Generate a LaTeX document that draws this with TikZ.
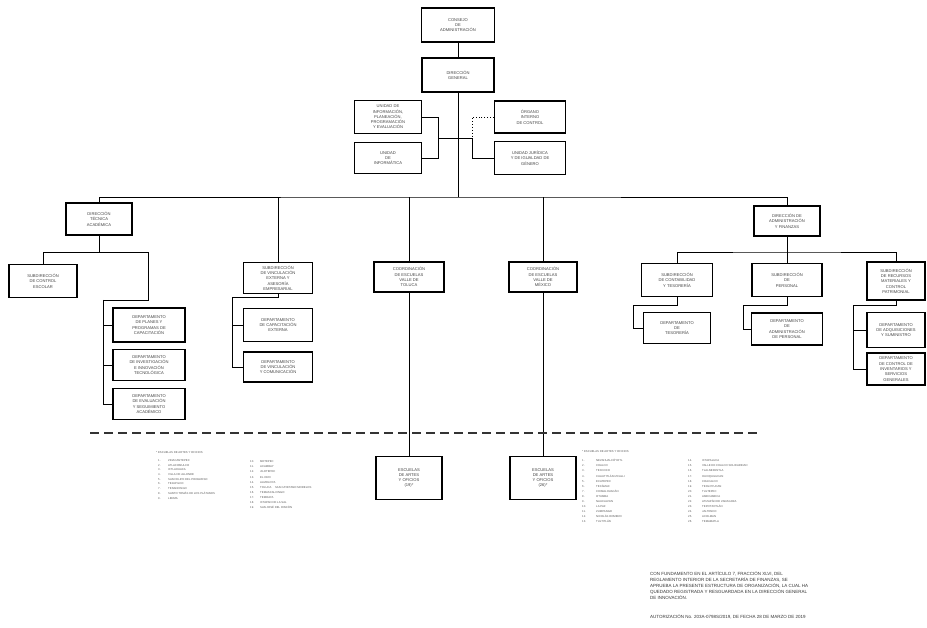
\documentclass[tikz,border=0pt]{standalone}
\usepackage{fontspec}
\setmainfont{Liberation Sans}
\usetikzlibrary{positioning}

\newcommand\boxfont{\fontsize{4.1}{5.3}\selectfont}
\newcommand\listfont{\fontsize{2.8}{4.7}\selectfont}
\newcommand\listfontb{\fontsize{2.8}{5.1}\selectfont}
\newcommand\notefont{\fontsize{4.5}{6}\selectfont}

\tikzset{
  unit/.style={draw, line width=1.2pt, align=center, font=\boxfont, inner sep=1pt, text=black!75},
  link/.style={line width=0.9pt},
  lst/.style={align=left, inner sep=0pt, anchor=north west, text=black!65},
}

\begin{document}
\begin{tikzpicture}[x=1pt,y=-1pt]
\useasboundingbox (0,0) rectangle (927,628);

% top of the structure
\node[unit, minimum width=73pt, minimum height=34pt] (cons) at (458,25) {CONSEJO\\DE\\ADMINISTRACIÓN};
\node[unit, minimum width=72pt, minimum height=34pt] (dg) at (458,75) {DIRECCIÓN\\GENERAL};
\node[unit, minimum width=67pt, minimum height=33pt] (uippe) at (388,117) {UNIDAD DE\\INFORMACIÓN,\\PLANEACIÓN,\\PROGRAMACIÓN\\Y EVALUACIÓN};
\node[unit, minimum width=67pt, minimum height=31pt] (uinf) at (388,158) {UNIDAD\\DE\\INFORMÁTICA};
\node[unit, minimum width=71pt, minimum height=32pt] (oic) at (530,117) {ÓRGANO\\INTERNO\\DE CONTROL};
\node[unit, minimum width=71pt, minimum height=33pt] (ujig) at (530,158) {UNIDAD JURÍDICA\\Y DE IGUALDAD DE\\GÉNERO};

% direccion tecnica academica
\node[unit, minimum width=66pt, minimum height=32pt] (dta) at (99,219) {DIRECCIÓN\\TÉCNICA\\ACADÉMICA};
\node[unit, minimum width=68pt, minimum height=33pt] (sce) at (43,281) {SUBDIRECCIÓN\\DE CONTROL\\ESCOLAR};
\node[unit, minimum width=72pt, minimum height=34pt] (dpp) at (149,325) {DEPARTAMENTO\\DE PLANES Y\\PROGRAMAS DE\\CAPACITACIÓN};
\node[unit, minimum width=72pt, minimum height=31pt] (dii) at (149,365) {DEPARTAMENTO\\DE INVESTIGACIÓN\\E INNOVACIÓN\\TECNOLÓGICA};
\node[unit, minimum width=72pt, minimum height=31pt] (des) at (149,404) {DEPARTAMENTO\\DE EVALUACIÓN\\Y SEGUIMIENTO\\ACADÉMICO};

% vinculacion
\node[unit, minimum width=69pt, minimum height=31pt] (svae) at (278,278) {SUBDIRECCIÓN\\DE VINCULACIÓN\\EXTERNA Y\\ASESORÍA\\EMPRESARIAL};
\node[unit, minimum width=69pt, minimum height=33pt] (dce) at (278,325) {DEPARTAMENTO\\DE CAPACITACIÓN\\EXTERNA};
\node[unit, minimum width=69pt, minimum height=30pt] (dvc) at (278,367) {DEPARTAMENTO\\DE VINCULACIÓN\\Y COMUNICACIÓN};

% coordinaciones y escuelas
\node[unit, minimum width=70pt, minimum height=30pt] (cevt) at (409,277) {COORDINACIÓN\\DE ESCUELAS\\VALLE DE\\TOLUCA};
\node[unit, minimum width=68pt, minimum height=30pt] (cevm) at (543,277) {COORDINACIÓN\\DE ESCUELAS\\VALLE DE\\MÉXICO};
\node[unit, minimum width=66pt, minimum height=43pt] (eaot) at (409,478) {ESCUELAS\\DE ARTES\\Y OFICIOS\\(19)*};
\node[unit, minimum width=66pt, minimum height=43pt] (eaom) at (543,478) {ESCUELAS\\DE ARTES\\Y OFICIOS\\(26)*};

% administracion y finanzas
\node[unit, minimum width=66pt, minimum height=30pt] (daf) at (787,221) {DIRECCIÓN DE\\ADMINISTRACIÓN\\Y FINANZAS};
\node[unit, minimum width=71pt, minimum height=33pt] (sct) at (677,280) {SUBDIRECCIÓN\\DE CONTABILIDAD\\Y TESORERÍA};
\node[unit, minimum width=70pt, minimum height=33pt] (sp) at (787,280) {SUBDIRECCIÓN\\DE\\PERSONAL};
\node[unit, minimum width=58pt, minimum height=38pt] (srm) at (896,281) {SUBDIRECCIÓN\\DE RECURSOS\\MATERIALES Y\\CONTROL\\PATRIMONIAL};
\node[unit, minimum width=67pt, minimum height=31pt] (dt) at (677,328) {DEPARTAMENTO\\DE\\TESORERÍA};
\node[unit, minimum width=71pt, minimum height=32pt] (dap) at (787,329) {DEPARTAMENTO\\DE\\ADMINISTRACIÓN\\DE PERSONAL};
\node[unit, minimum width=58pt, minimum height=35pt] (das) at (896,330) {DEPARTAMENTO\\DE ADQUISICIONES\\Y SUMINISTRO};
\node[unit, minimum width=58pt, minimum height=32pt] (dcisg) at (896,369) {DEPARTAMENTO\\DE CONTROL DE\\INVENTARIOS Y\\SERVICIOS\\GENERALES};

% junctions
\coordinate (hub) at (458,197);
\coordinate (sl) at (438,138);
\coordinate (sr) at (472,138);
\coordinate (dtab) at (99,252);
\coordinate (dtar) at (148,252);
\coordinate (dtas) at (103,300);
\coordinate (svj) at (232,297);
\coordinate (dafj) at (787,252);
\coordinate (tj) at (633,305);
\coordinate (pj) at (743,305);
\coordinate (rj) at (853,305);

\draw[link] (cons) -- (dg);
\draw[link] (dg) -- (hub);
\draw[link] (uippe.east) -| (sl);
\draw[link] (uinf.east) -| (sl);
\draw[link] (sl) -- (sr);
\draw[link] (ujig.west) -| (sr);
\draw[link, dotted] (oic.west) -| (sr);
\draw[link] (dta.north) |- (hub) -| (daf.north);
\draw[link] (svae.north) -- (svae.north |- hub);
\draw[link] (cevt.north) -- (cevt.north |- hub);
\draw[link] (cevm.north) -- (cevm.north |- hub);

\draw[link] (dta.south) -- (dtab);
\draw[link] (sce.north) |- (dtar) |- (dtas);
\draw[link] (dtas) |- (des.west);
\draw[link] (dpp.west) -| (dtas);
\draw[link] (dii.west) -| (dtas);

\draw[link] (svae.south) |- (svj) |- (dvc.west);
\draw[link] (dce.west) -| (svj);

\draw[link] (cevt) -- (eaot);
\draw[link] (cevm) -- (eaom);

\draw[link] (daf.south) -- (dafj);
\draw[link] (sct.north) |- (dafj) -| (srm.north);
\draw[link] (sp.north) -- (dafj);
\draw[link] (sct.south) |- (tj) |- (dt.west);
\draw[link] (sp.south) |- (pj) |- (dap.west);
\draw[link] (srm.south) |- (rj) |- (dcisg.west);
\draw[link] (das.west) -| (rj);

% separator
\coordinate (sepL) at (90,433);
\coordinate (sepR) at (760,433);
\draw[line width=1.2pt, dash pattern=on 9pt off 5pt, black!80] (sepL) -- (sepR);

% escuelas valle de toluca
\node[lst, font=\listfont] (lth) at (156,451) {* ESCUELAS DE ARTES Y OFICIOS};
\node[lst, font=\listfont] (lt1) at (158,458) {\begin{tabular}{@{}p{10pt}@{}l@{}}
1. & ZINACANTEPEC\\
2. & ATLACOMULCO\\
3. & IXTLAHUACA\\
4. & VILLA DE ALLENDE\\
5. & SAN FELIPE DEL PROGRESO\\
6. & TEJUPILCO\\
7. & TENANCINGO\\
8. & SANTO TOMÁS DE LOS PLÁTANOS\\
9. & LERMA
\end{tabular}};
\node[lst, font=\listfontb] (lt2) at (250,459) {\begin{tabular}{@{}p{10pt}@{}l@{}}
10. & METEPEC\\
11. & ACAMBAY\\
12. & JILOTEPEC\\
13. & EL ORO\\
14. & ALMOLOYA\\
15. & TOLUCA \quad SAN CAYETANO MORELOS\\
16. & TEMASCALCINGO\\
17. & TEMOAYA\\
18. & IXTAPAN DE LA SAL\\
19. & SAN JOSÉ DEL RINCÓN
\end{tabular}};

% escuelas valle de mexico
\node[lst, font=\listfont] (lmh) at (582,450) {* ESCUELAS DE ARTES Y OFICIOS};
\node[lst, font=\listfontb] (lm1) at (582,458) {\begin{tabular}{@{}p{14pt}@{}l@{}}
1. & NEZAHUALCÓYOTL\\
2. & CHALCO\\
3. & TEXCOCO\\
4. & CUAUTITLÁN IZCALLI\\
5. & ECATEPEC\\
6. & TECÁMAC\\
7. & CHIMALHUACÁN\\
8. & OTUMBA\\
9. & NAUCALPAN\\
10. & LA PAZ\\
11. & ZUMPANGO\\
12. & NICOLÁS ROMERO\\
13. & TULTITLÁN
\end{tabular}};
\node[lst, font=\listfontb] (lm2) at (688,458) {\begin{tabular}{@{}p{14pt}@{}l@{}}
14. & IXTAPALUCA\\
15. & VALLE DE CHALCO SOLIDARIDAD\\
16. & TLALNEPANTLA\\
17. & HUIXQUILUCAN\\
18. & COACALCO\\
19. & TEOLOYUCAN\\
20. & TULTEPEC\\
21. & AMECAMECA\\
22. & ATIZAPÁN DE ZARAGOZA\\
23. & TEPOTZOTLÁN\\
24. & JALTENCO\\
25. & ACOLMAN\\
26. & TEMAMATLA
\end{tabular}};

% autorizacion
\node[lst, font=\notefont, text=black!80] (note) at (650,571) {CON FUNDAMENTO EN EL ARTÍCULO 7, FRACCIÓN XLVI, DEL\\
REGLAMENTO INTERIOR DE LA SECRETARÍA DE FINANZAS, SE\\
APRUEBA LA PRESENTE ESTRUCTURA DE ORGANIZACIÓN, LA CUAL HA\\
QUEDADO REGISTRADA Y RESGUARDADA EN LA DIRECCIÓN GENERAL\\
DE INNOVACIÓN.};
\node[lst, font=\notefont, text=black!80] (auth) at (650,614) {AUTORIZACIÓN No. 203A-0798S/2019, DE FECHA 28 DE MARZO DE 2019};
\end{tikzpicture}
\end{document}
